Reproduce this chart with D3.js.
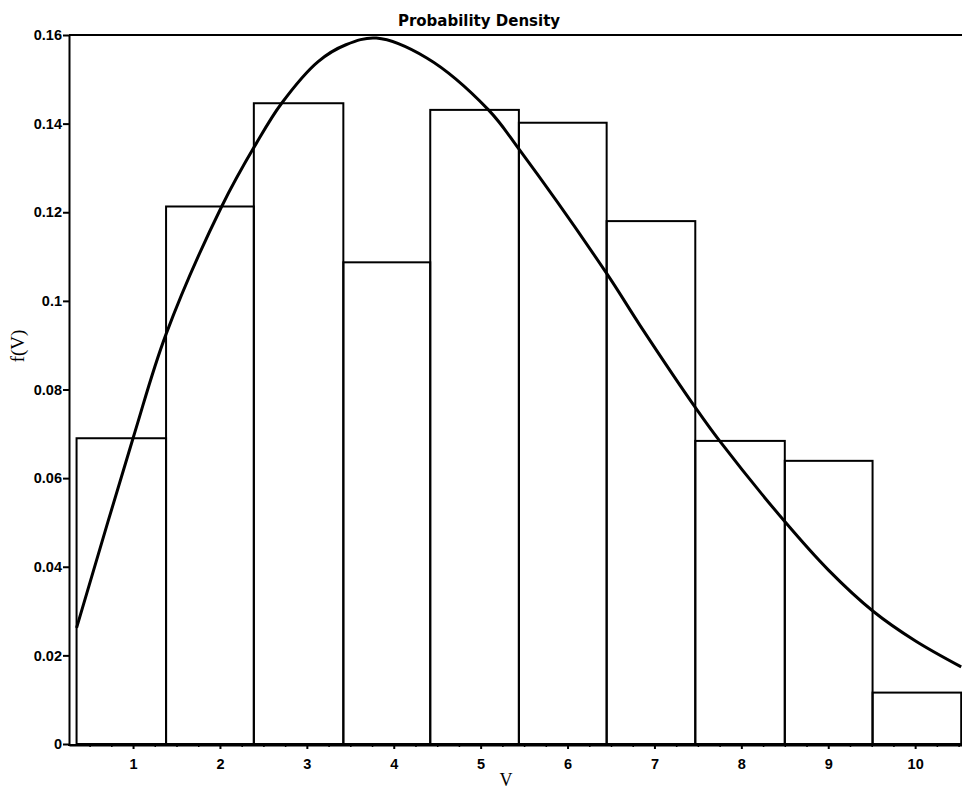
<!DOCTYPE html>
<html>
<head>
<meta charset="utf-8">
<script src="https://cdn.jsdelivr.net/npm/d3@7/dist/d3.min.js"></script>
<style>
  html, body { margin: 0; padding: 0; background: #fff; }
  svg { display: block; }
</style>
</head>
<body>
<script>
// Histogram bin edges (wind speed V) and bar heights (density)
const binEdges = [0.35, 1.38, 2.39, 3.42, 4.42, 5.44, 6.45, 7.47, 8.50, 9.51, 10.53];
const binDensity = [0.0690, 0.1213, 0.1446, 0.1087, 0.1431, 0.1402, 0.1180, 0.0684, 0.0639, 0.0116];

// Fitted density curve, sampled along V
const curveV = [0.35, 1.00, 1.38, 2.02, 2.42, 2.71, 3.13, 3.45, 3.80, 4.38, 5.09, 5.45, 6.45, 6.83, 7.49, 7.75, 8.50, 9.00, 9.52, 10.00, 10.53];
const curveF = [0.0262, 0.0690, 0.0925, 0.1213, 0.1356, 0.1446, 0.1540, 0.1578, 0.1593, 0.1548, 0.1431, 0.1340, 0.1062, 0.0946, 0.0754, 0.0684, 0.0502, 0.0393, 0.0299, 0.0233, 0.0174];

// Axis ticks
const xTicks = [1, 2, 3, 4, 5, 6, 7, 8, 9, 10];
const yTicks = [0, 0.02, 0.04, 0.06, 0.08, 0.10, 0.12, 0.14, 0.16];
const yTickLabels = ["0", "0.02", "0.04", "0.06", "0.08", "0.1", "0.12", "0.14", "0.16"];

const titleText = "Probability Density";
const xLabel = "V";
const yLabel = "f(V)";

const W = 962, H = 792;
const plotLeft = 69, plotTop = 35, plotBottom = 744;

const svg = d3.select("body").append("svg")
  .attr("width", W).attr("height", H);

const x = d3.scaleLinear().domain([0.263, 10.62]).range([plotLeft, plotLeft + 10.357 * 86.9]);
const y = d3.scaleLinear().domain([0, 0.16]).range([plotBottom, plotTop]);

const tickFont = g => g.selectAll("text")
  .style("font-family", "'Liberation Sans', Arial, sans-serif")
  .style("font-weight", "bold")
  .style("font-size", "14.5px");

// Title
svg.append("text")
  .attr("x", 479).attr("y", 26)
  .attr("text-anchor", "middle")
  .style("font-family", "'DejaVu Sans', Verdana, sans-serif")
  .style("font-weight", "bold")
  .style("font-size", "15px")
  .text(titleText);

// Top frame line
svg.append("line")
  .attr("x1", plotLeft).attr("x2", W + 5)
  .attr("y1", plotTop).attr("y2", plotTop)
  .attr("stroke", "#000").attr("stroke-width", 2);

// Histogram bars
const bins = binDensity.map((d, i) => ({ x0: binEdges[i], x1: binEdges[i + 1], f: d }));
svg.append("g")
  .selectAll("rect")
  .data(bins)
  .join("rect")
  .attr("x", d => x(d.x0))
  .attr("y", d => y(d.f))
  .attr("width", d => x(d.x1) - x(d.x0))
  .attr("height", d => y(0) - y(d.f))
  .attr("fill", "none")
  .attr("stroke", "#000")
  .attr("stroke-width", 2);

// Density curve
const pts = curveV.map((v, i) => [v, curveF[i]]);
svg.append("path")
  .datum(pts)
  .attr("fill", "none")
  .attr("stroke", "#000")
  .attr("stroke-width", 3)
  .attr("stroke-linejoin", "round")
  .attr("d", d3.line().x(d => x(d[0])).y(d => y(d[1])).curve(d3.curveCatmullRom.alpha(0.5)));

// X axis: minor ticks, then major ticks with labels
const xMinor = d3.range(0.5, 10.75, 0.25).filter(v => Math.abs(v - Math.round(v)) > 1e-9);
svg.append("g")
  .attr("transform", `translate(0,${plotBottom + 1})`)
  .call(d3.axisBottom(x).tickValues(xMinor).tickSize(2).tickFormat(""))
  .call(g => g.select(".domain").remove())
  .call(g => g.selectAll("line").attr("stroke-width", 1.5));

const xAxis = svg.append("g")
  .attr("transform", `translate(0,${plotBottom + 1})`)
  .call(d3.axisBottom(x).tickValues(xTicks).tickSize(4).tickPadding(10).tickSizeOuter(0))
  .call(tickFont);
xAxis.select(".domain").attr("stroke-width", 2);
xAxis.selectAll("line").attr("stroke-width", 2);

// Y axis
const yAxis = svg.append("g")
  .attr("transform", `translate(${plotLeft},0)`)
  .call(d3.axisLeft(y).tickValues(yTicks).tickSize(6).tickPadding(1).tickSizeOuter(0)
    .tickFormat((d, i) => yTickLabels[i]))
  .call(tickFont);
yAxis.select(".domain").attr("stroke-width", 2);
yAxis.selectAll("line").attr("stroke-width", 2);

// Bottom axis line spanning the full plot width
svg.append("line")
  .attr("x1", plotLeft - 1).attr("x2", W + 5)
  .attr("y1", plotBottom + 1).attr("y2", plotBottom + 1)
  .attr("stroke", "#000").attr("stroke-width", 2);

// Axis titles
svg.append("text")
  .attr("x", 506).attr("y", 786)
  .attr("text-anchor", "middle")
  .style("font-family", "'Liberation Serif', 'Times New Roman', serif")
  .style("font-size", "18px")
  .text(xLabel);

svg.append("text")
  .attr("transform", "translate(24,346) rotate(-90)")
  .attr("text-anchor", "middle")
  .style("font-family", "'Liberation Serif', 'Times New Roman', serif")
  .style("font-size", "19px")
  .text(yLabel);
</script>
</body>
</html>
